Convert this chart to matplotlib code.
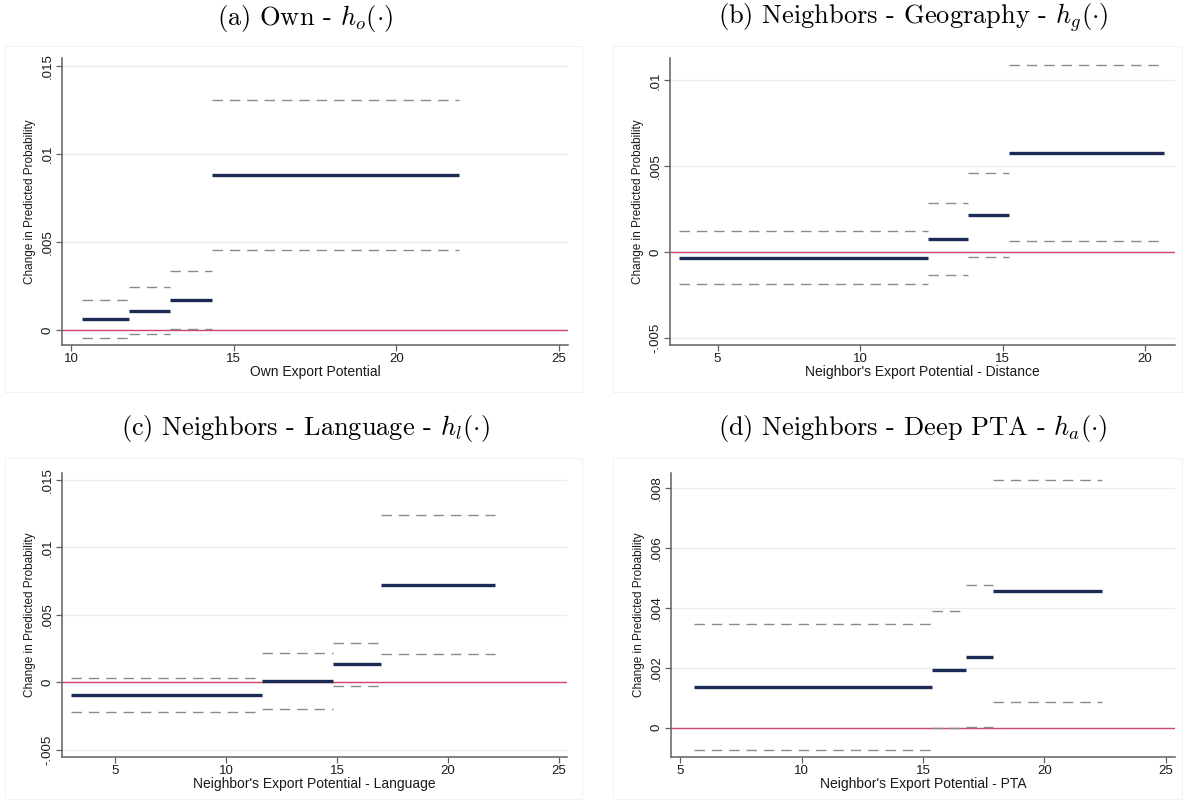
import matplotlib
matplotlib.use("Agg")
import matplotlib.pyplot as plt
from matplotlib.patches import Rectangle

plt.rcParams['mathtext.fontset'] = 'cm'
plt.rcParams['lines.scale_dashes'] = False
plt.rcParams['font.family'] = ['Liberation Sans', 'DejaVu Sans']

# ---------------- data ----------------
titles = [r"(a) Own - $h_o(\cdot)$",
          r"(b) Neighbors - Geography - $h_g(\cdot)$",
          r"(c) Neighbors - Language - $h_l(\cdot)$",
          r"(d) Neighbors - Deep PTA - $h_a(\cdot)$"]
xlabels = ["Own Export Potential",
           "Neighbor's Export Potential - Distance",
           "Neighbor's Export Potential - Language",
           "Neighbor's Export Potential - PTA"]

# bin edges (export potential)
edges_a = [10.33, 11.77, 13.05, 14.34, 21.92]
edges_b = [3.66, 12.38, 13.80, 15.23, 20.66]
edges_c = [3.01, 11.63, 14.81, 16.96, 22.13]
edges_d = [5.57, 15.35, 16.75, 17.89, 22.38]

# point estimates
est_a = [0.00064, 0.00110, 0.00169, 0.00879]
est_b = [-0.00035, 0.00074, 0.00216, 0.00574]
est_c = [-0.00093, 0.00010, 0.00135, 0.00718]
est_d = [0.00135, 0.00193, 0.00237, 0.00455]

# upper confidence bounds
up_a = [0.00170, 0.00242, 0.00333, 0.01305]
up_b = [0.00123, 0.00284, 0.00461, 0.01088]
up_c = [0.00034, 0.00218, 0.00294, 0.01238]
up_d = [0.00347, 0.00390, 0.00474, 0.00824]

# lower confidence bounds
lo_a = [-0.00044, -0.00023, 0.00004, 0.00453]
lo_b = [-0.00189, -0.00134, -0.00029, 0.00062]
lo_c = [-0.00221, -0.00196, -0.00027, 0.00206]
lo_d = [-0.00075, -0.00001, 0.00001, 0.00085]

xticks_a = [10, 15, 20, 25]
xticks_b = [5, 10, 15, 20]
xticks_c = [5, 10, 15, 20, 25]
xticks_d = [5, 10, 15, 20, 25]

yticks_a = [0, 0.005, 0.01, 0.015]
ylabels_a = ["0", ".005", ".01", ".015"]
yticks_b = [-0.005, 0, 0.005, 0.01]
ylabels_b = ["-.005", "0", ".005", ".01"]
yticks_c = [-0.005, 0, 0.005, 0.01, 0.015]
ylabels_c = ["-.005", "0", ".005", ".01", ".015"]
yticks_d = [0, 0.002, 0.004, 0.006, 0.008]
ylabels_d = ["0", ".002", ".004", ".006", ".008"]

# ---------------- layout ----------------
W, H = 1183, 800
fig = plt.figure(figsize=(W / 100, H / 100), dpi=100)


def fr(l, t, r, b):
    return [l / W, 1 - b / H, (r - l) / W, (b - t) / H]


panels = [
    dict(pos=fr(62, 58, 568, 345), box=(5, 46, 582, 392), tpos=(305, 18),
         edges=edges_a, est=est_a, up=up_a, lo=lo_a, xt=xticks_a,
         yt=yticks_a, yl=ylabels_a, xlim=(9.71, 25.29), ylim=(-0.00085, 0.01544)),
    dict(pos=fr(670, 58, 1175, 345), box=(613, 46, 1182, 392), tpos=(913, 18),
         edges=edges_b, est=est_b, up=up_b, lo=lo_b, xt=xticks_b,
         yt=yticks_b, yl=ylabels_b, xlim=(3.33, 21.05), ylim=(-0.00543, 0.0113)),
    dict(pos=fr(62, 473, 567, 757), box=(5, 458, 582, 799), tpos=(305, 428),
         edges=edges_c, est=est_c, up=up_c, lo=lo_c, xt=xticks_c,
         yt=yticks_c, yl=ylabels_c, xlim=(2.59, 25.37), ylim=(-0.00554, 0.01551)),
    dict(pos=fr(671, 473, 1175, 757), box=(613, 458, 1182, 799), tpos=(913, 428),
         edges=edges_d, est=est_d, up=up_d, lo=lo_d, xt=xticks_d,
         yt=yticks_d, yl=ylabels_d, xlim=(4.61, 25.38), ylim=(-0.00098, 0.00849)),
]

navy = '#1c2a56'
gray = '#8a8a8a'
red = '#d2466c'
grid = '#e6eeee'
spine = '#606060'
txt = '#1a1a1a'

for i, p in enumerate(panels):
    # faint panel frame
    l, t, r, b = p['box']
    fig.patches.append(Rectangle((l / W, 1 - b / H), (r - l) / W, (b - t) / H,
                                 transform=fig.transFigure, fill=False,
                                 edgecolor='#f2f2f2', linewidth=0.8))
    fig.text(p['tpos'][0] / W, 1 - p['tpos'][1] / H, titles[i],
             family='cmr10', fontsize=19, ha='center', va='center', color='black')

    ax = fig.add_axes(p['pos'])
    e = p['edges']
    for k in range(len(p['est'])):
        ax.plot([e[k], e[k + 1]], [p['up'][k]] * 2, color=gray, lw=1.0,
                dashes=(7.5, 5.0), solid_capstyle='butt', dash_capstyle='butt', zorder=3)
        ax.plot([e[k], e[k + 1]], [p['lo'][k]] * 2, color=gray, lw=1.0,
                dashes=(7.5, 5.0), solid_capstyle='butt', dash_capstyle='butt', zorder=3)
        ax.plot([e[k], e[k + 1]], [p['est'][k]] * 2, color=navy, lw=2.4,
                solid_capstyle='butt', zorder=4)
    ax.axhline(0, color=red, lw=1.0, zorder=2)

    ax.set_xlim(*p['xlim'])
    ax.set_ylim(*p['ylim'])
    ax.set_xticks(p['xt'])
    ax.set_xticklabels([str(v) for v in p['xt']])
    ax.set_yticks(p['yt'])
    ax.set_yticklabels(p['yl'], rotation=90, va='center')
    ax.yaxis.grid(True, color=grid, lw=1.0, zorder=0)
    ax.set_axisbelow(True)
    for s in ['top', 'right']:
        ax.spines[s].set_visible(False)
    for s in ['left', 'bottom']:
        ax.spines[s].set_color(spine)
        ax.spines[s].set_linewidth(1.1)
    ax.tick_params(axis='both', direction='out', length=4, width=0.9,
                   color=spine, labelsize=9.5, labelcolor=txt, pad=2)
    ax.set_xlabel(xlabels[i], fontsize=10, color=txt, labelpad=0)
    ax.set_ylabel("Change in Predicted Probability", fontsize=8.5, color=txt, labelpad=4)

fig.savefig("out.png", dpi=100, facecolor='white')
